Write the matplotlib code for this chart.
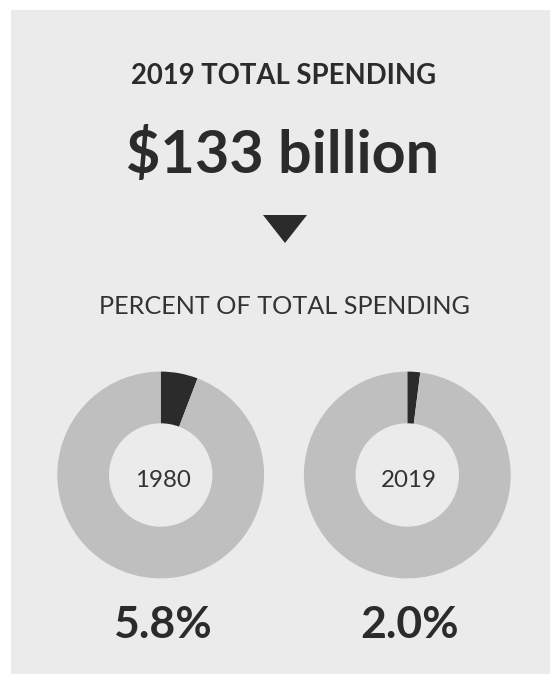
import matplotlib
matplotlib.use("Agg")
import matplotlib.pyplot as plt
from matplotlib.patches import Rectangle, Polygon

# ---- data ----
title = "2019 TOTAL SPENDING"
total_label = "$133 billion"
subtitle = "PERCENT OF TOTAL SPENDING"
years = ["1980", "2019"]
shares = [5.8, 2.0]
share_labels = ["5.8%", "2.0%"]

# ---- style ----
W, H, DPI = 550, 674, 100
BG = "#ebebeb"
RING = "#bfbfbf"
DARK = "#2b2b2b"
FONT = ["Lato", "DejaVu Sans"]

fig = plt.figure(figsize=(W / DPI, H / DPI), dpi=DPI, facecolor="white")
ax = fig.add_axes([0, 0, 1, 1])
ax.set_xlim(0, W)
ax.set_ylim(H, 0)
ax.axis("off")
ax.add_patch(Rectangle((11, 10), W - 11, H - 10, facecolor=BG, edgecolor="none", zorder=0))

renderer = fig.canvas.get_renderer()


def fitted(x, y, s, width, **kw):
    t = ax.text(x, y, s, ha="center", va="baseline", fontsize=20, family=FONT, **kw)
    w = t.get_window_extent(renderer).width
    t.set_fontsize(20 * width / w)
    return t


fitted(284, 84, title, 305, fontweight="bold", color=DARK)
fitted(283, 172.5, total_label, 312, fontweight="bold", color=DARK)

# triangle pointer
tx, ty, hw, th = 285, 215, 22, 28
ax.add_patch(Polygon([(tx - hw, ty), (tx + hw, ty), (tx, ty + th)], closed=True,
                     facecolor=DARK, edgecolor="none"))

fitted(284.5, 314.3, subtitle, 372, color="#333333")

centers = [160.7, 407.3]
cy, r = 475, 103.4
for cx, yr, sh, lab in zip(centers, years, shares, share_labels):
    dax = fig.add_axes([(cx - r) / W, 1 - (cy + r) / H, 2 * r / W, 2 * r / H])
    dax.pie([sh, 100 - sh], colors=[DARK, RING], startangle=90, counterclock=False,
            radius=1, wedgeprops=dict(width=0.5, edgecolor="none", linewidth=0))
    dax.set_xlim(-1, 1)
    dax.set_ylim(-1, 1)
    dax.set_aspect("equal")
    dax.axis("off")
    fitted(cx + 2, 486.7, yr, 56, color="#333333")
    fitted(cx + 2, 638.3, lab, 99, fontweight="bold", color=DARK)

fig.savefig("out.png", dpi=DPI, facecolor="white")
